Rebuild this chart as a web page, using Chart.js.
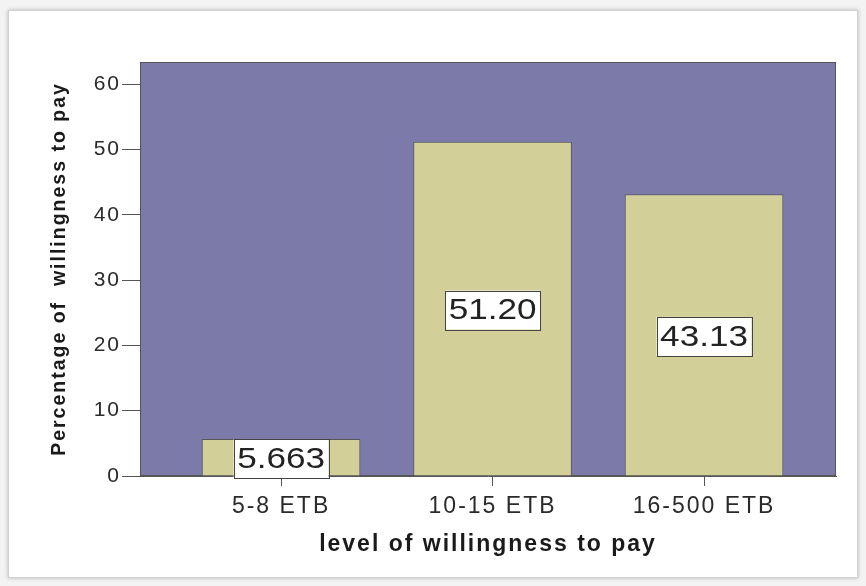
<!DOCTYPE html>
<html>
<head>
<meta charset="utf-8">
<script src="https://cdn.jsdelivr.net/npm/chart.js@4/dist/chart.umd.min.js"></script>
<style>
  html, body { margin: 0; padding: 0; background: #f3f3f3; }
  #wrap { position: relative; width: 866px; height: 586px; }
  #card { position: absolute; left: 8px; top: 10px; width: 848px; height: 566px;
          background: #fff; border: 1px solid #d0d0d0; box-shadow: 0 0 4px rgba(0,0,0,0.25); }
  #myChart { position: absolute; left: 0; top: 0; }
</style>
</head>
<body>
<div id="wrap">
  <div id="card"></div>
  <canvas id="myChart" width="866" height="586"></canvas>
</div>
<script>
var categories = ['5-8 ETB', '10-15 ETB', '16-500 ETB'];
var percentages = [5.663, 51.20, 43.13];
var valueLabels = ['5.663', '51.20', '43.13'];
var yTicks = [0, 10, 20, 30, 40, 50, 60];

var plotBg = '#7b7aa8';
var barFill = '#d3cf98';
var lineColor = '#555555';
var fontFam = '"Liberation Sans", Arial, sans-serif';

// the original picture is a bit stretched sideways, so widen the text a little
var wideText = {
  id: 'wideText',
  beforeLayout: function(chart) { chart.ctx.letterSpacing = '2px'; },
  beforeDraw: function(chart) { chart.ctx.letterSpacing = '2px'; }
};

// purple plot area + white value boxes
var spssLook = {
  id: 'spssLook',
  beforeDatasetsDraw: function(chart) {
    var a = chart.chartArea, c = chart.ctx;
    c.save();
    c.fillStyle = plotBg;
    c.fillRect(a.left, a.top, a.right - a.left, a.bottom - a.top);
    c.strokeStyle = lineColor;
    c.lineWidth = 1;
    c.strokeRect(a.left + 0.5, a.top + 0.5, a.right - a.left - 1, a.bottom - a.top - 1);
    c.restore();
  },
  afterDraw: function(chart) {
    var c = chart.ctx;
    var meta = chart.getDatasetMeta(0);
    c.save();
    c.letterSpacing = '0px';
    c.font = '30px ' + fontFam;
    c.textAlign = 'center';
    c.textBaseline = 'middle';
    meta.data.forEach(function(bar, i) {
      var cx = bar.x;
      var cy = (bar.y + bar.base) / 2 + 1.5;
      var w = 95, h = 39;
      c.fillStyle = '#ffffff';
      c.fillRect(cx - w / 2, cy - h / 2, w, h);
      c.strokeStyle = '#444';
      c.lineWidth = 1;
      c.strokeRect(Math.round(cx - w / 2) + 0.5, Math.round(cy - h / 2) + 0.5, w, h);
      c.fillStyle = '#222';
      c.save();
      c.translate(cx, cy + 1);
      c.scale(1.17, 1);
      c.fillText(valueLabels[i], 0, 0);
      c.restore();
    });
    c.restore();
  }
};

var ctx = document.getElementById('myChart').getContext('2d');

var graphData = {
  type: 'bar',
  data: {
    datasets: [{
      data: percentages.map(function(v, i) { return { x: i, y: v }; }),
      backgroundColor: barFill,
      borderColor: lineColor,
      borderWidth: 1,
      categoryPercentage: 0.75,
      barPercentage: 1
    }]
  },
  options: {
    responsive: false,
    animation: false,
    layout: { padding: { left: 48, right: 30, top: 62, bottom: 28 } },
    plugins: { legend: { display: false }, tooltip: { enabled: false } },
    scales: {
      x: {
        type: 'linear',
        offset: false,
        min: -0.667,
        max: 2.624,
        afterBuildTicks: function(s) { s.ticks = categories.map(function(c, i) { return { value: i }; }); },
        afterFit: function(s) { s.height = 82; },
        grid: { offset: false, drawOnChartArea: false, drawTicks: true, tickLength: 10, color: lineColor },
        border: { display: true, color: lineColor },
        ticks: {
          padding: 7,
          color: '#2a2a2a',
          font: { family: fontFam, size: 23 },
          callback: function(v) { return categories[v]; }
        },
        title: {
          display: true,
          text: 'level of willingness to pay',
          color: '#1a1a1a',
          font: { family: fontFam, size: 23, weight: 'bold' },
          padding: 0
        }
      },
      y: {
        min: 0,
        max: 63.4,
        afterBuildTicks: function(s) { s.ticks = yTicks.map(function(v) { return { value: v }; }); },
        afterFit: function(s) { s.width = 92; },
        grid: { drawOnChartArea: false, drawTicks: true, tickLength: 18, color: lineColor },
        border: { display: true, color: lineColor },
        ticks: {
          padding: 1,
          color: '#2a2a2a',
          font: { family: fontFam, size: 21 }
        },
        title: {
          display: true,
          text: 'Percentage of  willingness to pay',
          color: '#1a1a1a',
          font: { family: fontFam, size: 19.5, weight: 'bold' },
          padding: 0
        }
      }
    }
  },
  plugins: [wideText, spssLook]
};

var myChart = new Chart(ctx, graphData);
</script>
</body>
</html>
